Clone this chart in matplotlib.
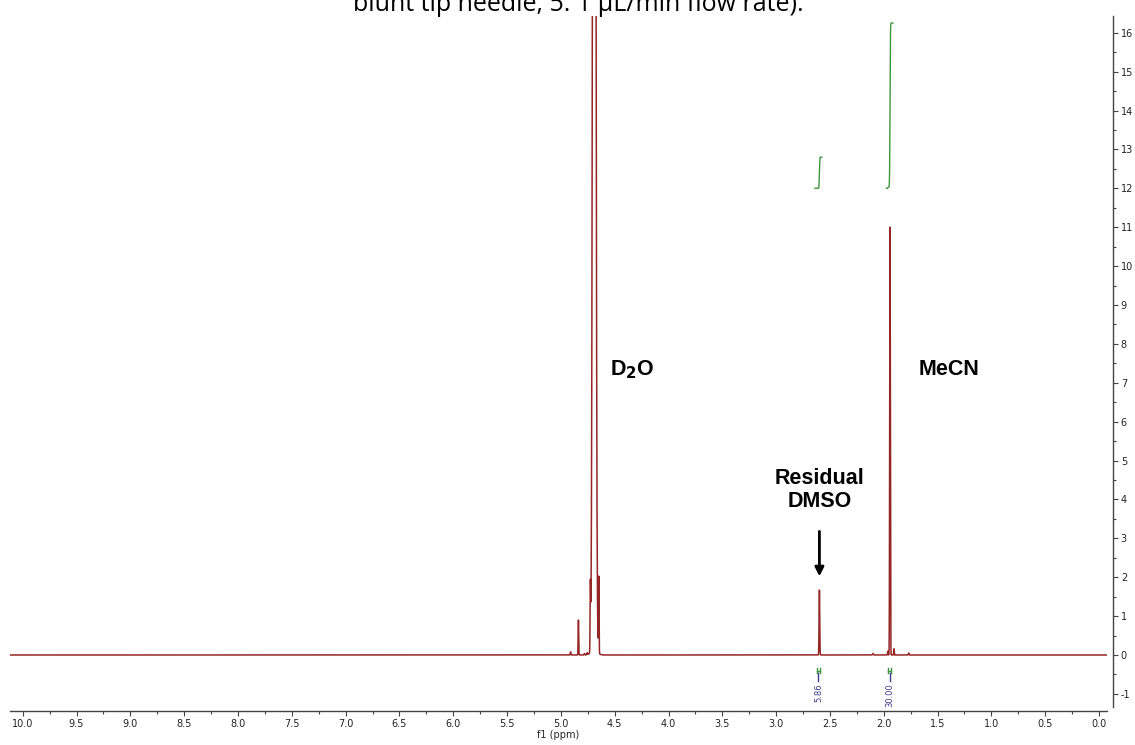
import numpy as np
import matplotlib.pyplot as plt
from matplotlib.ticker import MultipleLocator, FormatStrFormatter

# peak table: position (ppm), height, width (sigma, ppm)
peak_ppm = [4.690, 4.726, 4.648, 4.837, 4.910, 4.780, 4.755, 4.690,
            2.598, 1.942, 1.905, 1.962, 1.768, 2.100]
peak_height = [60.0, 1.60, 1.95, 0.90, 0.08, 0.04, 0.05, 0.10,
               1.67, 11.0, 0.16, 0.10, 0.05, 0.04]
peak_sigma = [0.011, 0.0025, 0.0025, 0.0025, 0.003, 0.003, 0.003, 0.03,
              0.003, 0.003, 0.0025, 0.0025, 0.003, 0.004]

# integrals: region (ppm), curve start/end on y scale, value
int_regions = [(2.64, 2.575), (1.975, 1.915)]
int_levels = [(12.0, 12.8), (12.0, 16.25)]
int_values = ['5.86', '30.00']

labels = ['D$_{\\bf 2}$O', 'MeCN', 'Residual\nDMSO']
label_pos = [(4.34, 7.33), (1.39, 7.33), (2.598, 4.25)]

x = np.linspace(10.12, -0.08, 60000)
y = np.zeros_like(x)
for p, h, s in zip(peak_ppm, peak_height, peak_sigma):
    y += h * np.exp(-0.5 * ((x - p) / s) ** 2)

fig = plt.figure(figsize=(11.35, 7.45), dpi=100)
ax = fig.add_axes([10 / 1135, 34 / 745, 1097 / 1135, 695 / 745])
ax.plot(x, y, color='#952626', lw=1.1)
ax.set_xlim(10.118, -0.074)
ax.set_ylim(-1.44, 16.43)

green = '#3c963c'
blue = '#3c3c8c'
for (a, b), (lo, hi), val in zip(int_regions, int_levels, int_values):
    m = (x <= a) & (x >= b)
    c = np.cumsum(y[m])
    c = lo + (hi - lo) * (c - c[0]) / (c[-1] - c[0])
    ax.plot(x[m], c, color=green, lw=1.0)
    xc = (a + b) / 2
    w = 0.012
    ax.plot([xc + w, xc - w], [-0.40, -0.40], color=green, lw=1.0)
    ax.plot([xc + w, xc + w], [-0.33, -0.47], color=green, lw=1.0)
    ax.plot([xc - w, xc - w], [-0.33, -0.47], color=green, lw=1.0)
    ax.plot([xc, xc], [-0.47, -0.67], color=blue, lw=1.0)
    ax.text(xc, -0.72, val, rotation=90, ha='center', va='top',
            fontsize=6, color=blue)

for t, (px, py) in zip(labels, label_pos):
    ax.text(px, py, t, ha='center', va='center', fontsize=15.5,
            fontweight='bold', family='Liberation Sans', linespacing=1.15)
ax.annotate('', xy=(2.598, 1.95), xytext=(2.598, 3.25),
            arrowprops=dict(arrowstyle='-|>', color='black', lw=2,
                            mutation_scale=13))

for s in ['left', 'top']:
    ax.spines[s].set_visible(False)
ax.spines['right'].set_position(('outward', 4.3))
ax.spines['right'].set_bounds(-1.34, 16.43)
for s in ['right', 'bottom']:
    ax.spines[s].set_color('#444444')
    ax.spines[s].set_linewidth(1.0)
ax.yaxis.tick_right()
ax.xaxis.set_major_locator(MultipleLocator(0.5))
ax.xaxis.set_minor_locator(MultipleLocator(0.25))
ax.xaxis.set_major_formatter(FormatStrFormatter('%.1f'))
ax.yaxis.set_major_locator(MultipleLocator(1))
ax.yaxis.set_minor_locator(MultipleLocator(0.5))
ax.yaxis.set_major_formatter(FormatStrFormatter('%d'))
ax.tick_params(axis='both', which='major', direction='out', length=3.6,
               width=0.8, color='#444444', labelsize=7, labelcolor='#222222', pad=2)
ax.tick_params(axis='both', which='minor', direction='out', length=2,
               width=0.8, color='#444444')
ax.set_xlabel('f1 (ppm)', fontsize=7, labelpad=1, color='#222222')

fig.text(578 / 1135, 1 - 11 / 745, 'blunt tip needle, 5. 1 \u03bcL/min flow rate).',
         ha='center', va='baseline', fontsize=18, family='Open Sans')

fig.savefig('out.png', dpi=100)
